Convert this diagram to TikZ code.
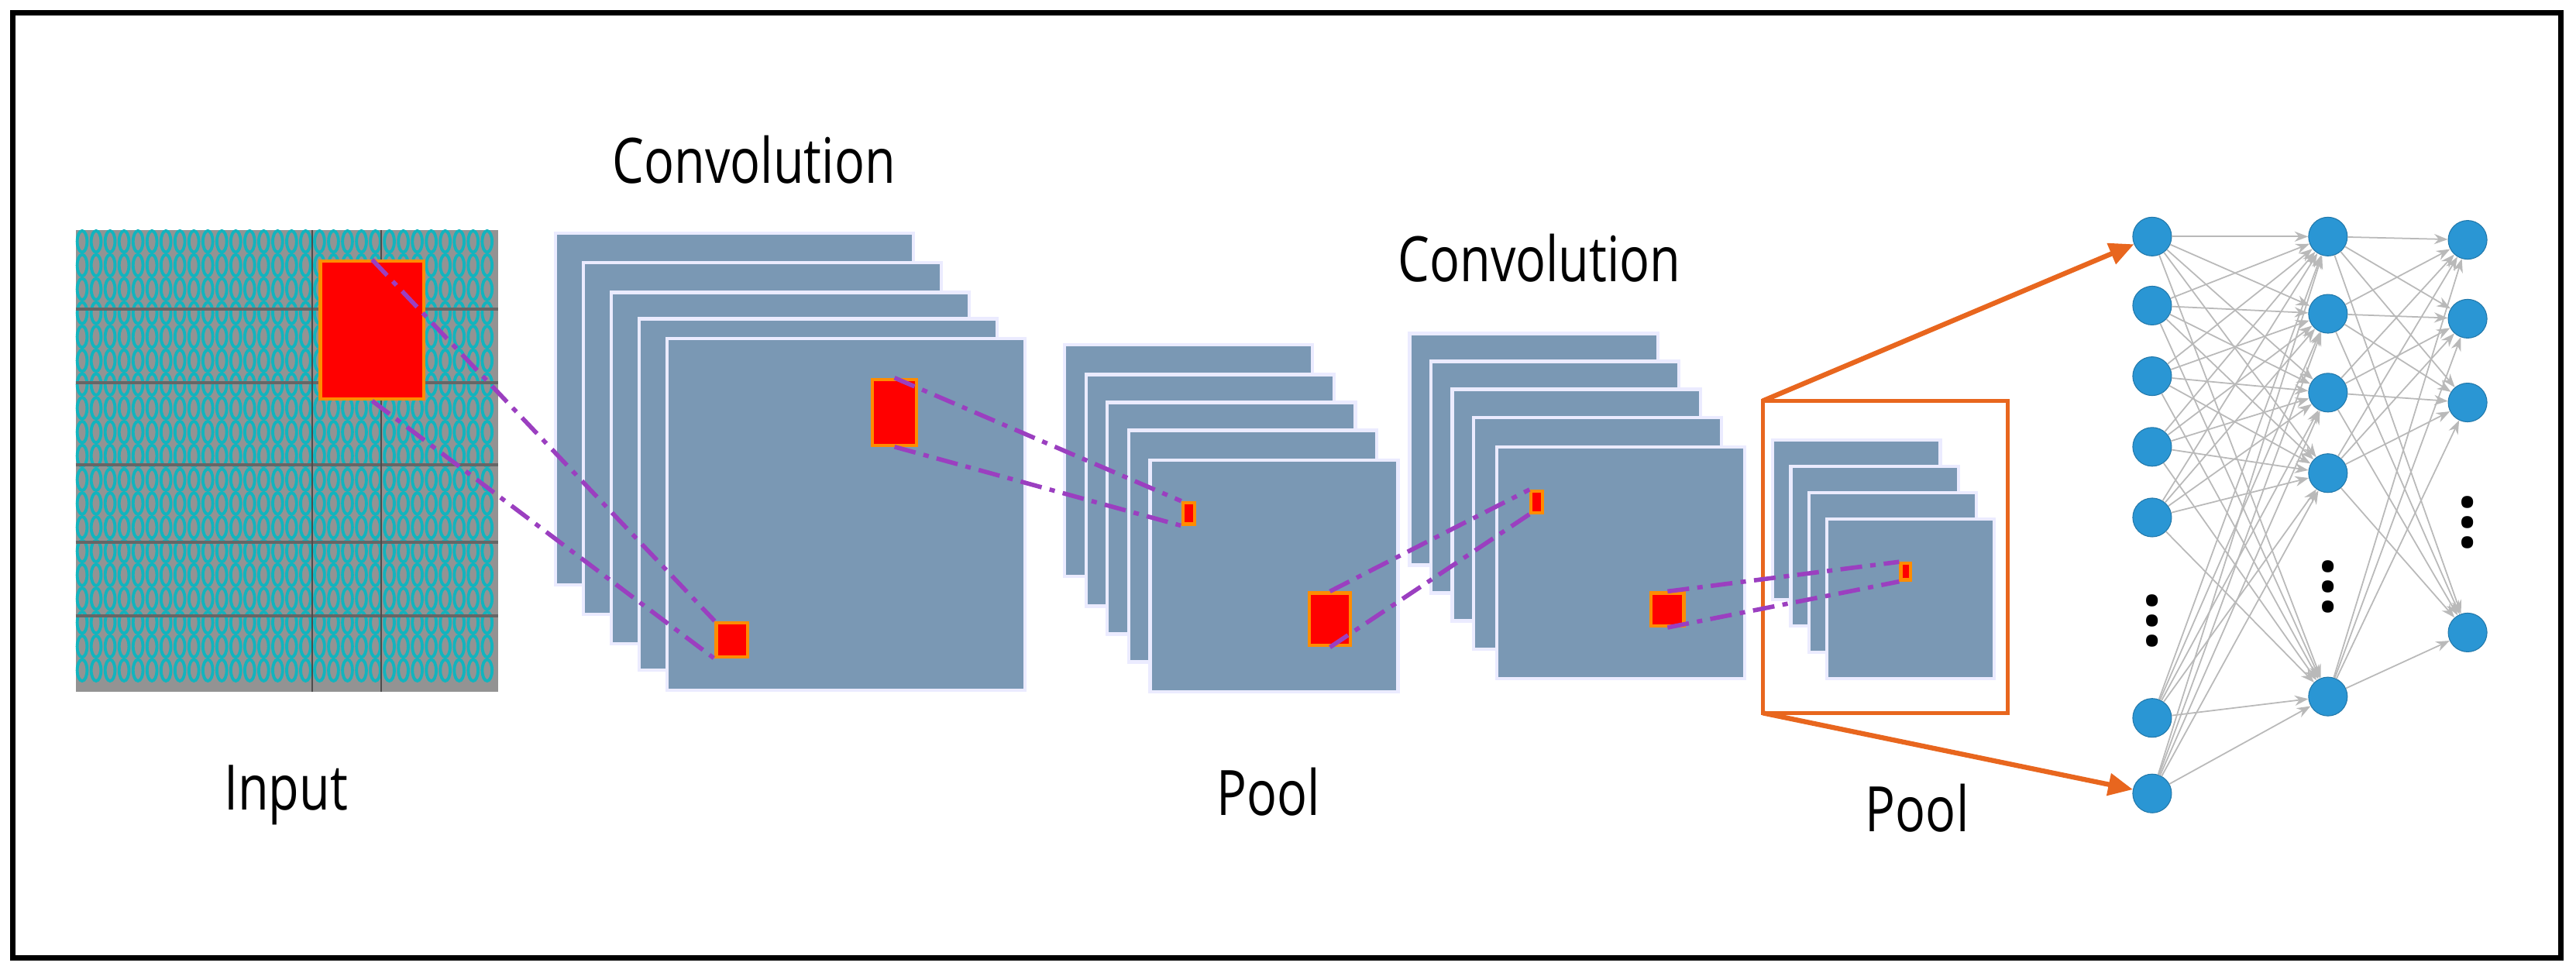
\documentclass[tikz,border=0pt]{standalone}
\usepackage{fontspec}
\setmainfont{Open Sans}
\usetikzlibrary{arrows.meta}
\definecolor{sheetblue}{HTML}{7A98B4}
\definecolor{linkpurple}{HTML}{9B3FC0}
\definecolor{boxorange}{HTML}{E8661E}
\definecolor{neuronblue}{HTML}{2A96D4}
\definecolor{patchteal}{HTML}{12B4BE}
\tikzset{
  sheet/.style={fill=sheetblue, draw=blue!8, line width=1.2pt},
  patch/.style={rectangle, fill=red, draw=orange!90!yellow, line width=1.2pt, inner sep=0pt},
  link/.style={draw=linkpurple, line width=1.6pt, dash pattern=on 8pt off 3pt on 2pt off 3pt},
  neuron/.style={circle, fill=neuronblue, draw=neuronblue!80!black, line width=0.3pt, minimum size=0.5cm, inner sep=0pt},
  weight/.style={draw=gray!55, line width=0.5pt, -{Stealth[length=5pt]}},
  label/.style={font=\fontsize{23}{28}\selectfont, xscale=0.8, anchor=center},
  dots/.style={font=\fontsize{26}{30}\selectfont\bfseries}
}
\begin{document}
\begin{tikzpicture}[x=0.0212cm,y=-0.0212cm]
  \useasboundingbox (0,0) rectangle (1568,592);
  \draw[line width=2pt] (8,8) rectangle (1559,583);

  % input image
  \fill[gray!85] (46,140) rectangle (303,421);
  \foreach \i in {0,...,29} {
    \foreach \j in {0,...,18} {
      \draw[patchteal, line width=1.1pt] (50+\i*8.5,147+\j*14.5) ellipse (3 and 6.5);
    }
  }
  \foreach \y in {188,233,283,330,375} \draw[black!60, line width=1.2pt] (46,\y) -- (303,\y);
  \foreach \x in {190,232} \draw[black!70, line width=0.7pt] (\x,140) -- (\x,421);
  \node[patch, minimum width=63*0.0212cm, minimum height=84*0.0212cm, anchor=north west] (in) at (194,158) {};
  \node[label] (inlbl) at (174,484) {Input};

  % first convolution
  \foreach \x/\y in {338/142,355/160,372/178,389/194,406/206} \path[sheet] (\x,\y) rectangle ++(218,214);
  \node[patch, minimum width=27*0.0212cm, minimum height=40*0.0212cm, anchor=north west] (c1) at (530,230) {};
  \node[patch, minimum width=19*0.0212cm, minimum height=21*0.0212cm, anchor=north west] (c1in) at (435,378) {};
  \node[label] (c1lbl) at (459,97) {Convolution};

  % first pooling
  \foreach \x/\y in {648/210,661/228,674/245,687/262,700/280} \path[sheet] (\x,\y) rectangle ++(151,141);
  \node[patch, minimum width=7*0.0212cm, minimum height=13*0.0212cm, anchor=north west] (p1in) at (719,305) {};
  \node[patch, minimum width=25*0.0212cm, minimum height=32*0.0212cm, anchor=north west] (p1) at (796,360) {};
  \node[label] (p1lbl) at (772,482) {Pool};

  % second convolution
  \foreach \x/\y in {858/203,871/220,884/237,897/254,911/272} \path[sheet] (\x,\y) rectangle ++(151,141);
  \node[patch, minimum width=7*0.0212cm, minimum height=13*0.0212cm, anchor=north west] (c2in) at (931,298) {};
  \node[patch, minimum width=20*0.0212cm, minimum height=20*0.0212cm, anchor=north west] (c2) at (1004,360) {};
  \node[label] (c2lbl) at (937,157) {Convolution};

  % second pooling
  \draw[boxorange, line width=1.3pt] (1073,244) rectangle (1222,434);
  \coordinate (boxtop) at (1073,244);
  \coordinate (boxbot) at (1073,434);
  \foreach \x/\y in {1079/268,1090/284,1101/300,1112/316} \path[sheet] (\x,\y) rectangle ++(102,97);
  \node[patch, minimum width=6*0.0212cm, minimum height=10*0.0212cm, anchor=north west] (p2in) at (1156,342) {};
  \node[label] (p2lbl) at (1167,492) {Pool};

  % receptive field links
  \draw[link] (in.north) -- (c1in.north west);
  \draw[link] (in.south) -- (c1in.south west);
  \draw[link] (c1.north) -- (p1in.north west);
  \draw[link] (c1.south) -- (p1in.south west);
  \draw[link] (p1.north) -- (c2in.north west);
  \draw[link] (p1.south) -- (c2in.south west);
  \draw[link] (c2.north) -- (p2in.north west);
  \draw[link] (c2.south) -- (p2in.south west);

  % fully connected layers
  \foreach \y [count=\k] in {144,186,229,272,315,437,483} \node[neuron] (a\k) at (1310,\y) {};
  \foreach \y [count=\k] in {144,191,239,288,424} \node[neuron] (b\k) at (1417,\y) {};
  \foreach \y [count=\k] in {146,194,245,385} \node[neuron] (o\k) at (1502,\y) {};
  \foreach \i in {1,...,7} \foreach \j in {1,...,5} \draw[weight] (a\i) -- (b\j);
  \foreach \i in {1,...,5} \foreach \j in {1,...,4} \draw[weight] (b\i) -- (o\j);
  \node[dots, rotate=90] (adots) at (1310,378) {...};
  \node[dots, rotate=90] (bdots) at (1417,357) {...};
  \node[dots, rotate=90] (odots) at (1502,318) {...};

  \draw[boxorange, line width=1.8pt, -{Triangle[length=9pt,width=8pt]}] (boxtop) -- (a1);
  \draw[boxorange, line width=1.8pt, -{Triangle[length=9pt,width=8pt]}] (boxbot) -- (a7);
\end{tikzpicture}
\end{document}
